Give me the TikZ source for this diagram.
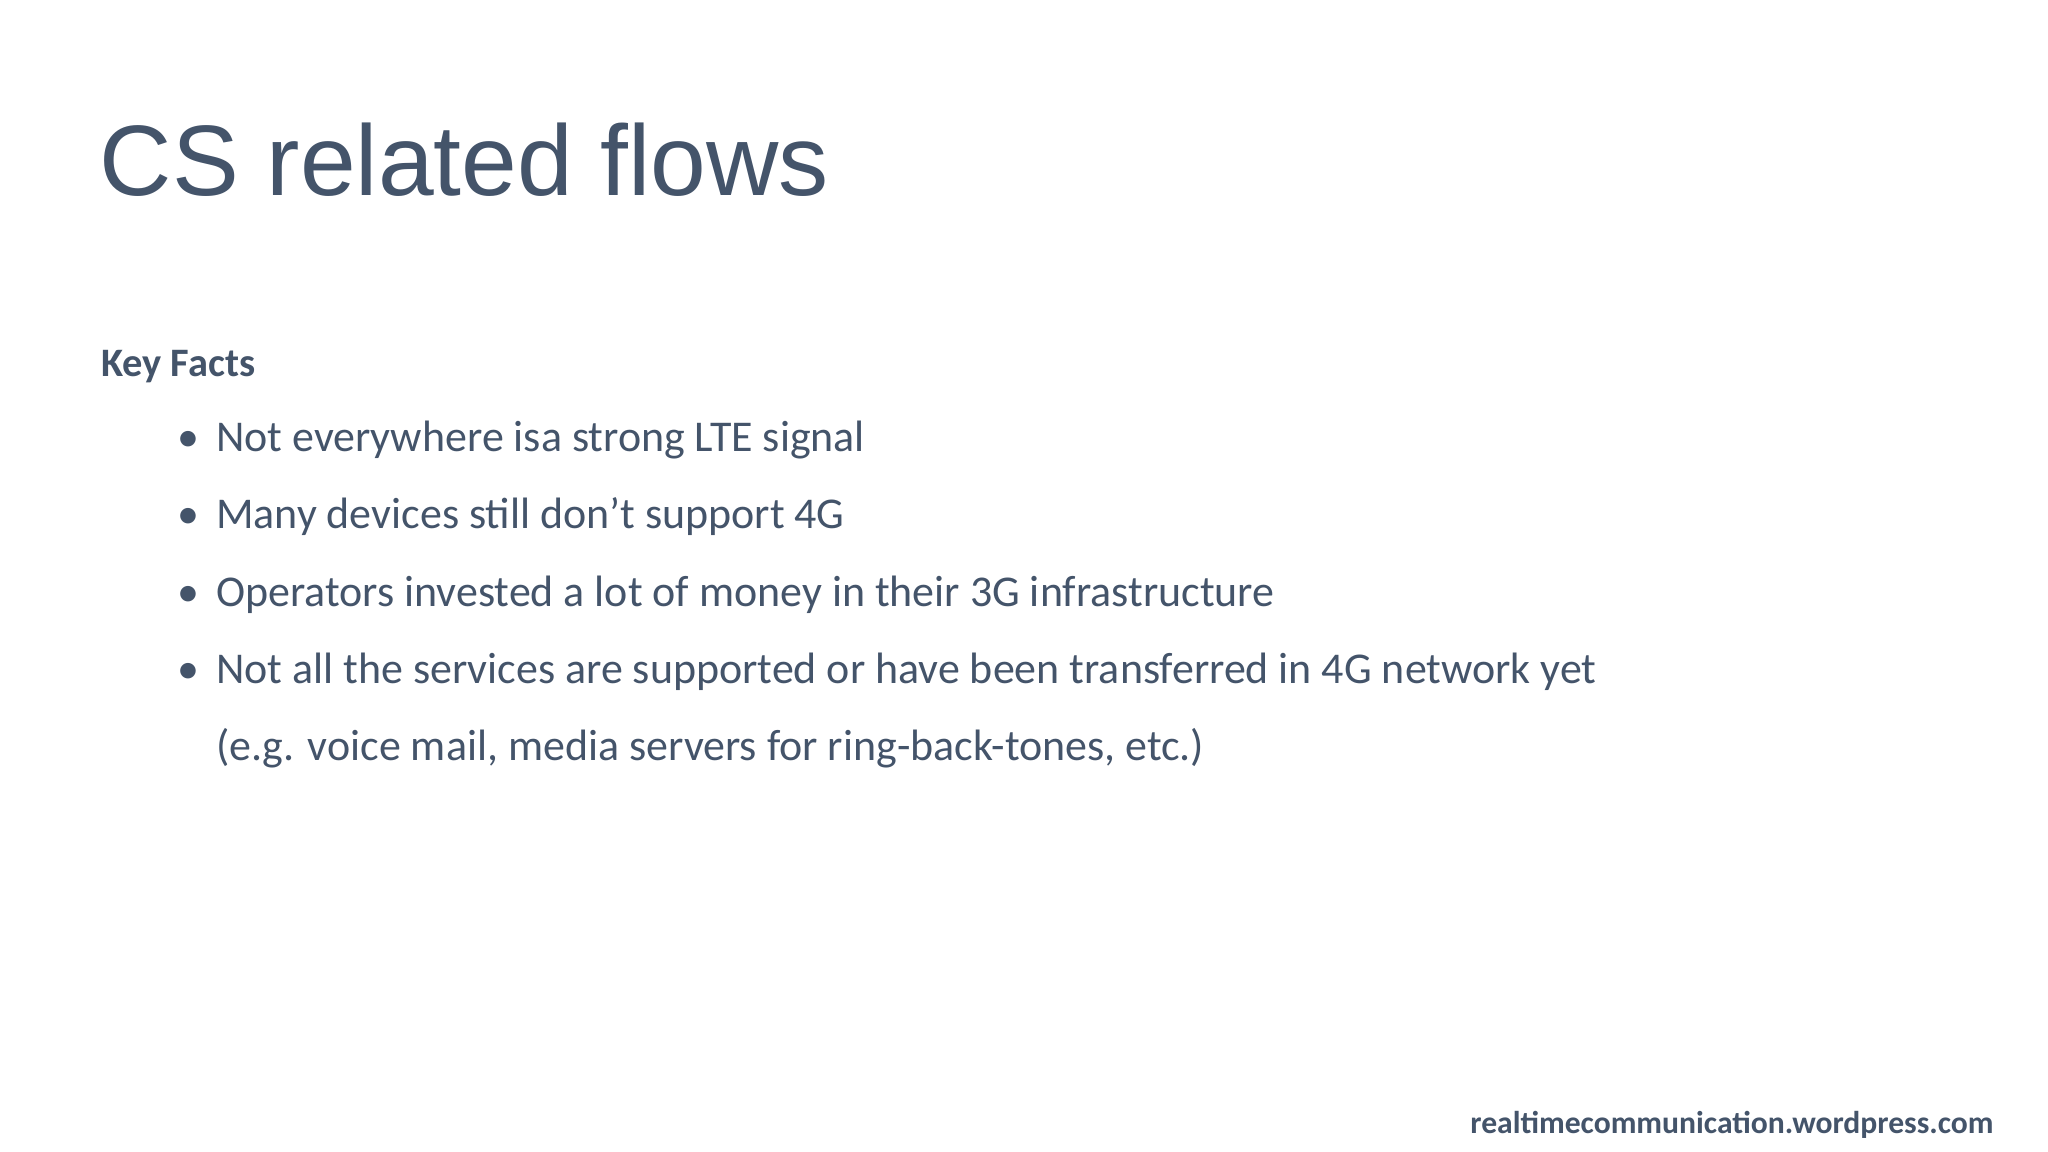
\documentclass[tikz,border=0pt]{standalone}
\usepackage{fontspec}
\setmainfont{Carlito}
\newfontfamily\titlefont{Liberation Sans}
\definecolor{slate}{HTML}{44546A}
\begin{document}
\begin{tikzpicture}[x=0.01306cm,y=-0.01306cm,
  txt/.style={anchor=base west,inner sep=0,text=slate},
  bul/.style={txt,font=\fontsize{12.5}{15}\selectfont}]
\useasboundingbox[fill=white] (0,0) rectangle (1568,882);
\node[txt,font=\titlefont\fontsize{28.5}{34}\selectfont] (title) at (76,150) {CS related flows};
\node[txt,font=\bfseries\fontsize{11.5}{14}\selectfont] (kf) at (77,288) {Key Facts};
\foreach \y/\t [count=\i] in {346/Not everywhere isa strong LTE signal,405/Many devices still don’t support 4G,464/Operators invested a lot of money in their 3G infrastructure,523/Not all the services are supported or have been transferred in 4G network yet}{
  \node[bul] (b\i) at (135,\y) {•};
  \node[bul] (t\i) at (165,\y) {\t};
}
\node[bul] (t5) at (165,582) {(e.g. voice mail, media servers for ring-back-tones, etc.)};
\node[txt,anchor=base east,font=\bfseries\fontsize{9}{11}\selectfont] (foot) at (1527,868) {realtimecommunication.wordpress.com};
\end{tikzpicture}
\end{document}
